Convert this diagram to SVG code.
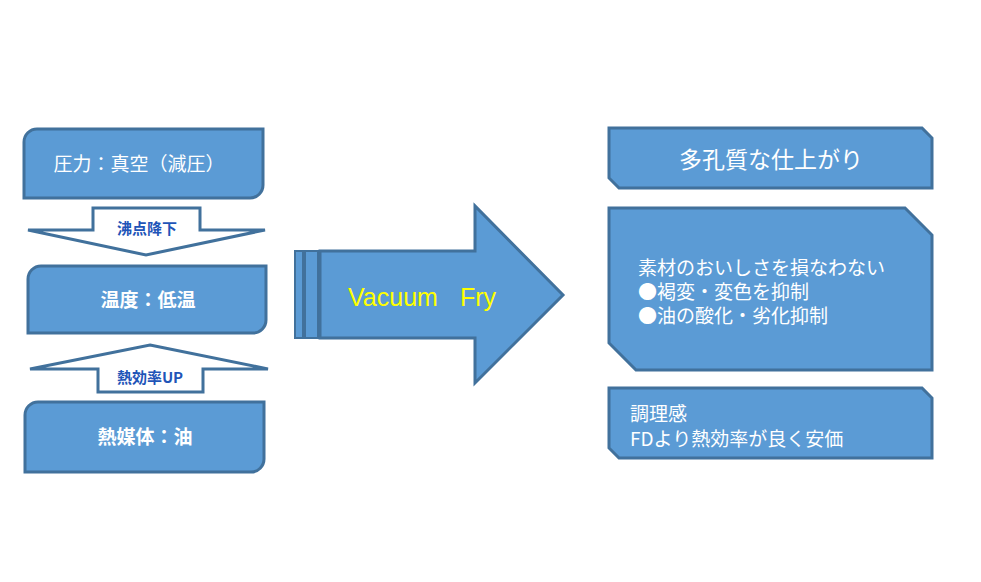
<svg xmlns="http://www.w3.org/2000/svg" width="981" height="582" viewBox="0 0 981 582">
<style>
.box{fill:#5B9BD5;stroke:#41719C;stroke-width:3;stroke-linejoin:miter}
.arr{fill:#FFFFFF;stroke:#41719C;stroke-width:3;stroke-linejoin:miter}
.t{fill:#FFFFFF;font-family:"Noto Sans CJK JP","Liberation Sans",sans-serif}
.lb{fill:#1F55B8;font-family:"Noto Sans CJK JP","Liberation Sans",sans-serif;font-weight:bold;font-size:15px;text-anchor:middle}
</style>
<rect width="981" height="582" fill="#FFFFFF"/>
<g id="connectors">
<g id="arrow-down">
<path class="arr" d="M93,208 H200 V230 H265 L146,255 L28,230 H93 Z"/>
<text class="lb" x="147" y="234">沸点降下</text>
</g>
<g id="arrow-up">
<path class="arr" d="M150,345 L268,369 H203 V392 H98 V369 H30 Z"/>
<text class="lb" x="150" y="383">熱効率UP</text>
</g>
<g id="arrow-big">
<rect x="295" y="251" width="8" height="87" class="box" style="stroke-width:2"/>
<rect x="305" y="251" width="13" height="87" class="box" style="stroke-width:2"/>
<path class="box" d="M320,251 H475 V206 L563,295 L475,383 V338 H320 Z"/>
<text y="306" font-family="'Liberation Sans',Arial,sans-serif" font-size="25" fill="#FFFF00"><tspan x="348">Vacuum</tspan><tspan x="460">Fry</tspan></text>
</g>
</g>
<g id="node-pressure">
<path class="box" d="M37,129 H263 V185 A13,13 0 0 1 250,198 H24 V142 A13,13 0 0 1 37,129 Z"/>
<text class="t" x="139" y="171" font-size="19" text-anchor="middle">圧力：真空（減圧）</text>
</g>
<g id="node-temp">
<path class="box" d="M41,266 H266 V320 A13,13 0 0 1 253,333 H28 V279 A13,13 0 0 1 41,266 Z"/>
<text class="t" x="148" y="307" font-size="19" text-anchor="middle" font-weight="bold">温度：低温</text>
</g>
<g id="node-medium">
<path class="box" d="M38,402 H264 V459 A13,13 0 0 1 251,472 H25 V415 A13,13 0 0 1 38,402 Z"/>
<text class="t" x="145" y="444" font-size="19" text-anchor="middle" font-weight="bold">熱媒体：油</text>
</g>
<g id="node-porous">
<path class="box" d="M609,128 H922 L932,138 V188 H619 L609,178 Z"/>
<text class="t" x="771" y="168" font-size="23" text-anchor="middle">多孔質な仕上がり</text>
</g>
<g id="node-quality">
<path class="box" d="M609,208 H905 L932,235 V370 H636 L609,343 Z"/>
<text class="t" x="638" y="275" font-size="19">素材のおいしさを損なわない</text>
<text class="t" x="638" y="299" font-size="19">●褐変・変色を抑制</text>
<text class="t" x="638" y="323" font-size="19">●油の酸化・劣化抑制</text>
</g>
<g id="node-cost">
<path class="box" d="M609,388 H922 L932,398 V458 H619 L609,448 Z"/>
<text class="t" x="630" y="421" font-size="19">調理感</text>
<text class="t" x="630" y="446" font-size="19">FDより熱効率が良く安価</text>
</g>
</svg>
